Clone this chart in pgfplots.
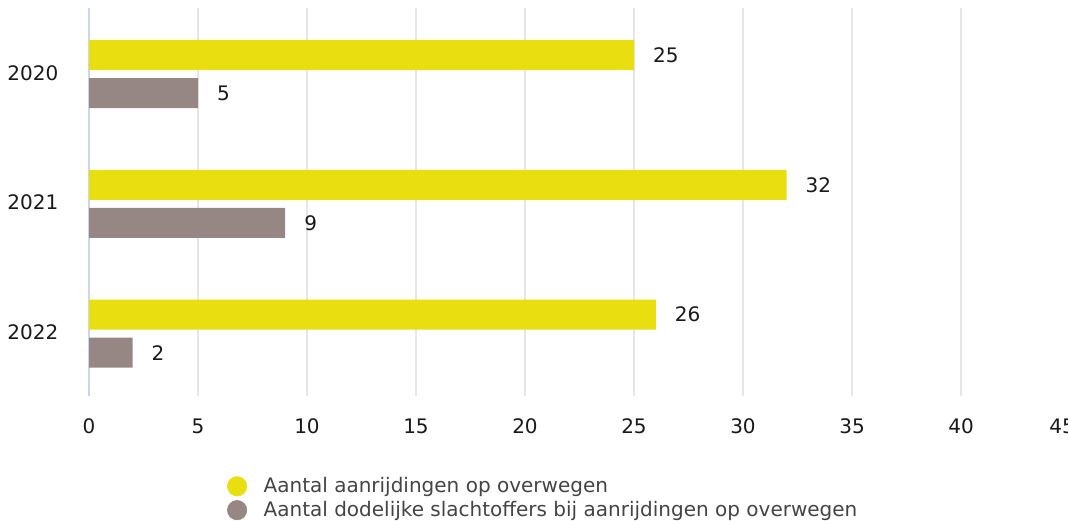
\documentclass[border=0pt]{standalone}
\usepackage{pgfplots}
\pgfplotsset{compat=1.18}
\usepackage{fontspec}
\setmainfont{DejaVu Sans}
\definecolor{yellowc}{HTML}{E8DE10}
\definecolor{grayc}{HTML}{968784}
\definecolor{gridc}{HTML}{E6E6E6}
\definecolor{zeroc}{HTML}{CCD6EB}
\definecolor{legtext}{HTML}{444444}
\begin{document}
\begin{tikzpicture}
\useasboundingbox (0,0) rectangle (801pt,390.75pt);
\begin{axis}[
  at={(66.75pt,93.75pt)}, anchor=south west,
  scale only axis, width=735.75pt, height=291pt,
  xmin=0, xmax=45, ymin=-0.48, ymax=2.51,
  xbar, bar width=22.5pt,
  xtick={5,10,...,45},
  xticklabels={5,10,15,20,25,30,35,40,{\hspace*{-12pt}45}},
  extra x ticks={0},
  extra x tick style={grid style={color=zeroc, line width=1.5pt}},
  ytick={0,1,2}, yticklabels={2022,2021,2020},
  xmajorgrids, grid style={color=gridc, line width=1.5pt},
  axis line style={draw=none}, major tick length=0pt, tick style={draw=none},
  /pgf/number format/assume math mode=true,
  tick label style={font=\fontsize{15}{18}\selectfont, text=black!90},
  xticklabel style={yshift=-13.5pt},
  yticklabel style={xshift=-19.5pt, yshift=1pt},
  nodes near coords,
  every node near coord/.style={anchor=west, xshift=10.8pt, font=\fontsize{15}{18}\selectfont, text=black!90},
  legend style={at={(0.1405,-0.203)}, anchor=north west, draw=none, fill=none,
    inner sep=0pt, row sep=1pt, font=\fontsize{15}{18}\selectfont, text=legtext},
  legend cell align=left,
  clip=false,
]
\addplot[fill=yellowc, draw=none, bar shift=14.25pt, forget plot,
  every node near coord/.append style={yshift=14.25pt}] coordinates {(25,2) (32,1) (26,0)};
\addplot[fill=grayc, draw=none, bar shift=-14.25pt, forget plot,
  every node near coord/.append style={yshift=-14.25pt}] coordinates {(5,2) (9,1) (2,0)};
\addlegendimage{legend image code/.code={\fill[yellowc] (7.3pt,0pt) circle (7.3pt); \path (25pt,0pt);}}
\addlegendentry{Aantal aanrijdingen op overwegen}
\addlegendimage{legend image code/.code={\fill[grayc] (7.3pt,0pt) circle (7.3pt); \path (25pt,0pt);}}
\addlegendentry{Aantal dodelijke slachtoffers bij aanrijdingen op overwegen}
\end{axis}
\end{tikzpicture}
\end{document}
